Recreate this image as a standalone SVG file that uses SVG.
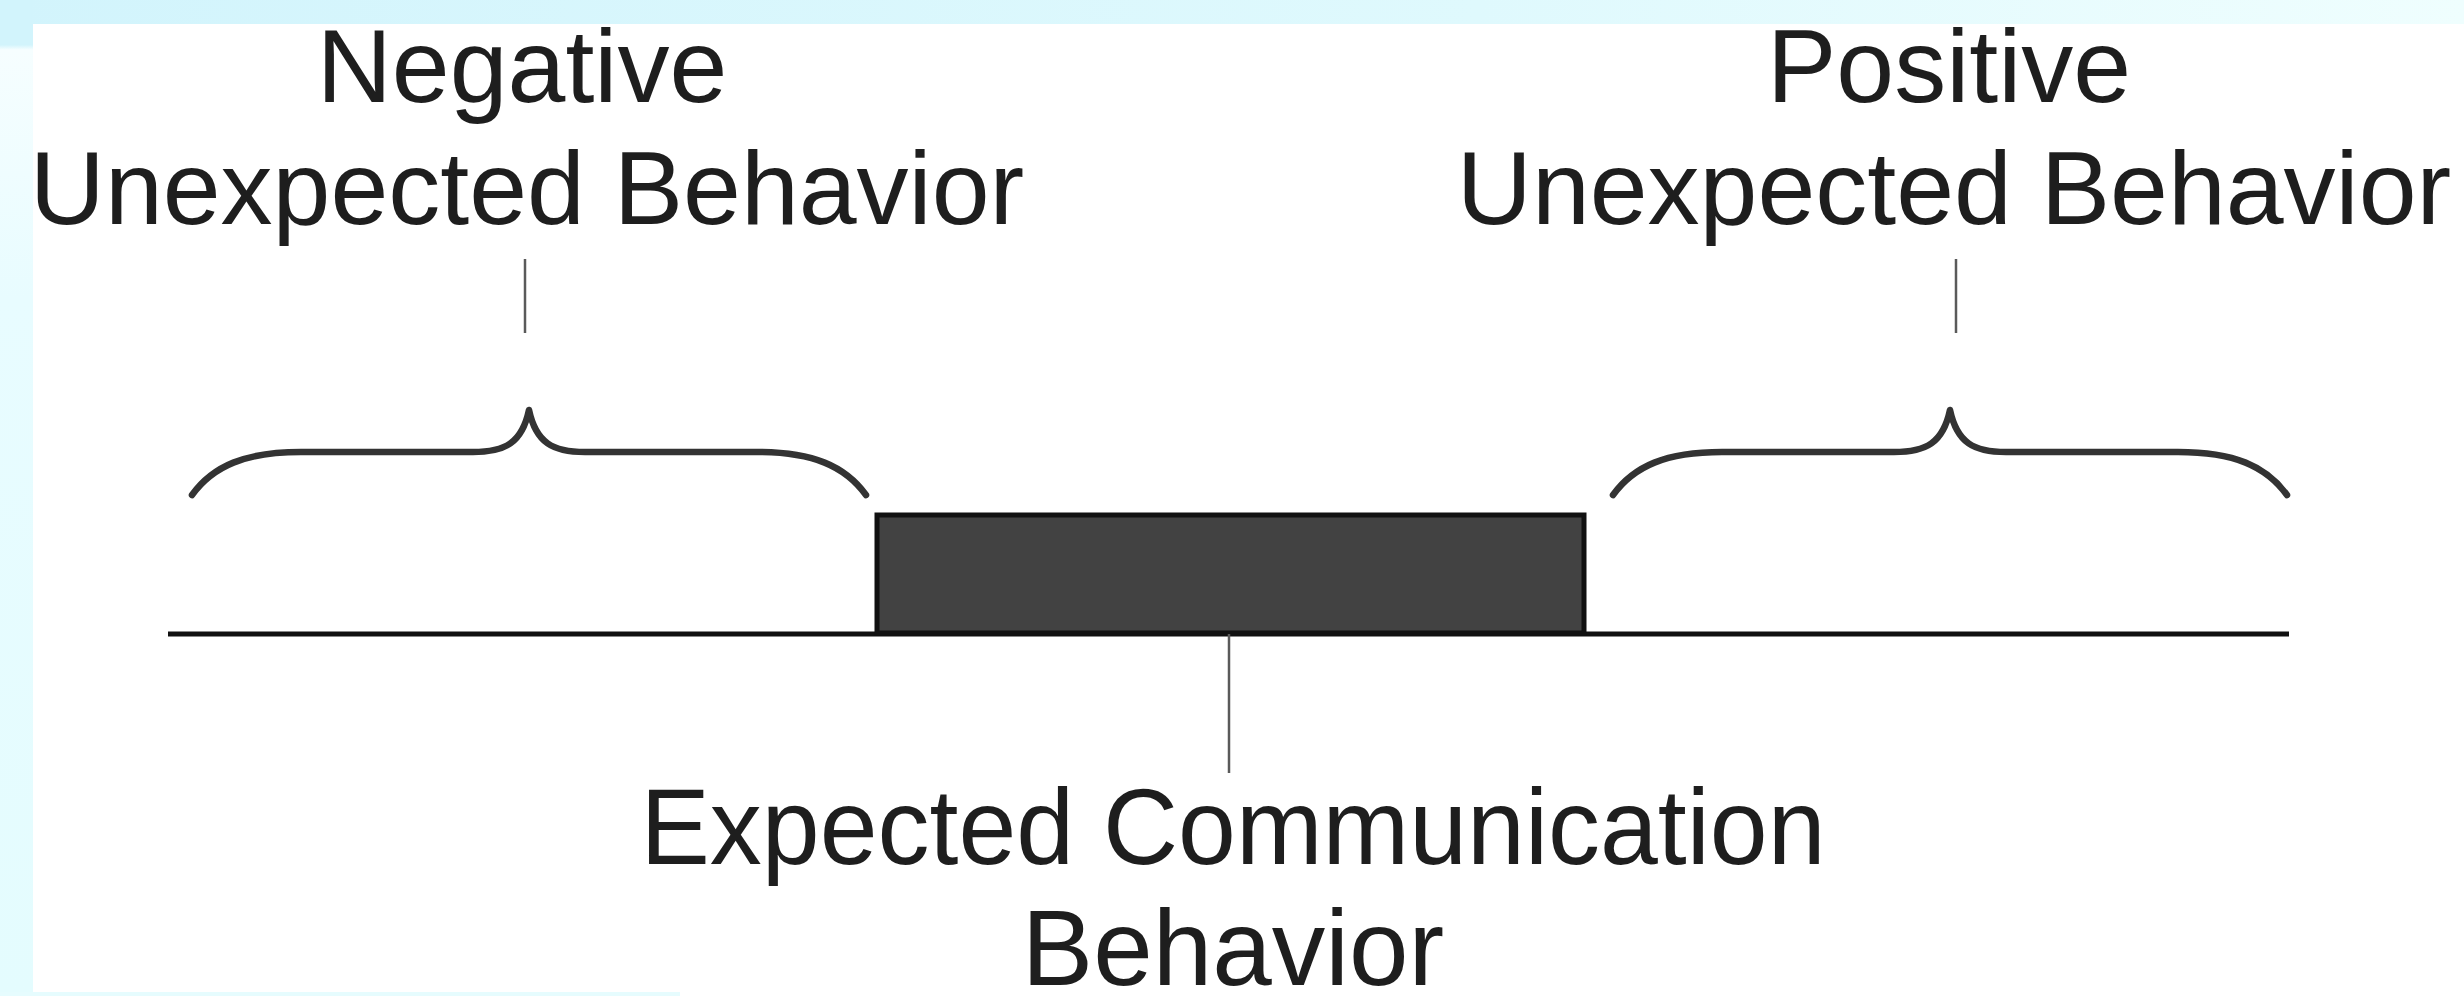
<svg xmlns="http://www.w3.org/2000/svg" width="2464" height="996" viewBox="0 0 2464 996">
  <defs>
    <linearGradient id="topStrip" x1="0" y1="0" x2="1" y2="0">
      <stop offset="0" stop-color="#d2f4fc"/>
      <stop offset="0.6" stop-color="#dff9fd"/>
      <stop offset="1" stop-color="#effefe"/>
    </linearGradient>
    <linearGradient id="leftStrip" x1="0" y1="0" x2="0" y2="1">
      <stop offset="0" stop-color="#d2f4fc"/>
      <stop offset="0.045" stop-color="#d2f4fc"/>
      <stop offset="0.05" stop-color="#f6feff"/>
      <stop offset="0.3" stop-color="#e8fcff"/>
      <stop offset="1" stop-color="#e4fcfe"/>
    </linearGradient>
    <path id="brace" d="M-337,85 C-316,56 -284,42 -228,42 L-56,42 C-24,42 -7,33 0,0 C7,33 24,42 56,42 L228,42 C284,42 316,56 337,85"/>
  </defs>
  <style>
    .lbl { font-family: "Liberation Sans", Arial, sans-serif; font-size: 104px; fill: #1e1e1e; text-anchor: middle; }
    .lblb { font-family: "Liberation Sans", Arial, sans-serif; font-size: 107px; fill: #1e1e1e; text-anchor: middle; }
    .brace { fill: none; stroke: #333; stroke-width: 6.5; stroke-linecap: round; stroke-linejoin: round; }
    .tick { stroke: #5a5a5a; stroke-width: 2.5; fill: none; }
    .axis { stroke: #111; stroke-width: 5; fill: none; }
  </style>

  <g id="background">
    <rect x="0" y="0" width="2464" height="996" fill="#ffffff"/>
    <rect x="0" y="0" width="2464" height="24" fill="url(#topStrip)"/>
    <rect x="0" y="0" width="33" height="996" fill="url(#leftStrip)"/>
    <rect x="0" y="992" width="680" height="4" fill="#e6fcfe"/>
  </g>

  <g id="axis">
    <line class="axis" x1="168" y1="634" x2="2289" y2="634"/>
  </g>

  <g id="expected-box">
    <rect x="877" y="515" width="707" height="118" fill="#424242" stroke="#111" stroke-width="5"/>
  </g>

  <g id="negative-brace">
    <use href="#brace" class="brace" transform="translate(529,410)"/>
  </g>

  <g id="positive-brace">
    <use href="#brace" class="brace" transform="translate(1950,410)"/>
  </g>

  <g id="connectors">
    <line class="tick" x1="525" y1="259" x2="525" y2="333"/>
    <line class="tick" x1="1956" y1="259" x2="1956" y2="333"/>
    <line class="tick" x1="1229" y1="634" x2="1229" y2="773"/>
  </g>

  <g id="negative-label">
    <text class="lbl" x="522" y="102">Negative</text>
    <text class="lbl" x="527" y="224">Unexpected Behavior</text>
  </g>

  <g id="positive-label">
    <text class="lbl" x="1949" y="102">Positive</text>
    <text class="lbl" x="1954" y="224">Unexpected Behavior</text>
  </g>

  <g id="expected-label">
    <text class="lblb" x="1233" y="864" textLength="1185" lengthAdjust="spacingAndGlyphs">Expected Communication</text>
    <text class="lblb" x="1233" y="985">Behavior</text>
  </g>
</svg>
